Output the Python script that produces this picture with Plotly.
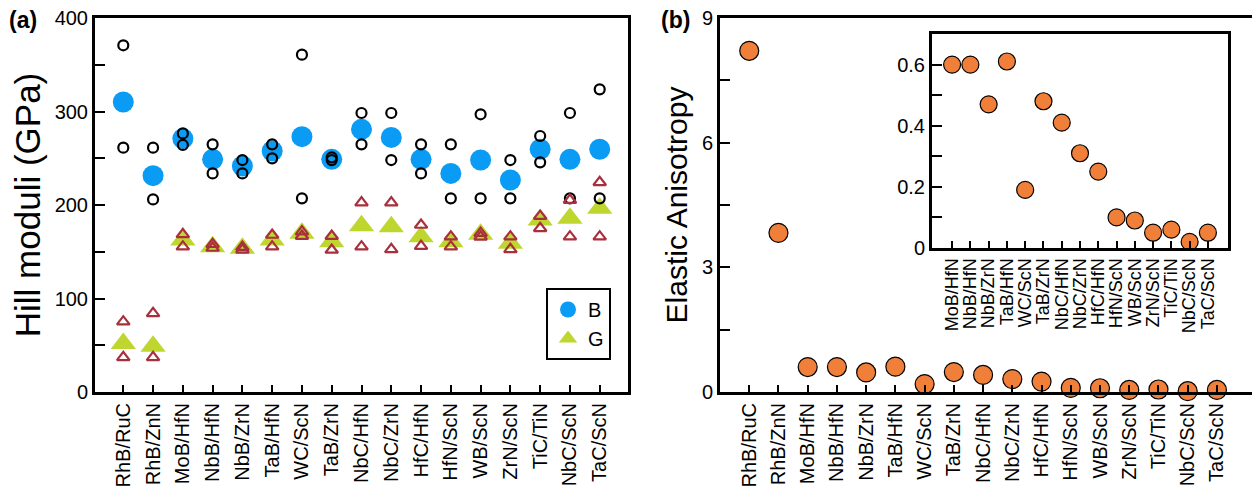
import plotly.graph_objects as go

categories = ["RhB/RuC", "RhB/ZnN", "MoB/HfN", "NbB/HfN", "NbB/ZrN", "TaB/HfN", "WC/ScN",
              "TaB/ZrN", "NbC/HfN", "NbC/ZrN", "HfC/HfN", "HfN/ScN", "WB/ScN", "ZrN/ScN",
              "TiC/TiN", "NbC/ScN", "TaC/ScN"]
B_hill = [310.2, 231.4, 271, 248.8, 241.7, 257.8, 273.1, 248.8, 280.9, 272.3, 248.8, 233.8,
          248.1, 226.7, 259.6, 248.8, 259.6]
B_upper = [370.8, 261.3, 276.6, 264.9, 248.1, 264.9, 360.8, 251, 298.4, 298.4, 264.9, 264.9,
           297, 248.1, 273.8, 298.4, 323.7]
B_lower = [261.3, 206, 264.2, 233.8, 233.8, 249.9, 207.1, 248, 264.9, 248.1, 233.8, 207.1,
           207.1, 207.1, 245.6, 207.1, 207.1]
G_hill = [52, 49, 162.6, 155.4, 153.7, 162.6, 169.7, 160.8, 177.9, 176.8, 166.1, 160.8,
          168.6, 159, 184, 185.8, 196.5]
G_upper = [75.2, 84.1, 168.6, 158, 155, 167.9, 171.5, 166.8, 202.5, 202.5, 178.6, 166.1,
           170, 166.1, 188.2, 205.3, 224.3]
G_lower = [37.1, 37.1, 155.4, 154, 152, 155.4, 166.8, 151.9, 155.4, 152.6, 156, 155.4,
           166, 152.6, 175.1, 166.1, 166.1]
anisotropy = [8.21, 3.83, 0.60, 0.60, 0.47, 0.61, 0.19, 0.48, 0.41, 0.31, 0.25, 0.10,
              0.09, 0.05, 0.06, 0.02, 0.05]
inset_categories = categories[2:]
inset_anisotropy = anisotropy[2:]

FONT = "Liberation Sans, Arial, Helvetica, sans-serif"
BLUE = "#0a9bf5"
GREEN = "#bfd62f"
RED = "#a8303c"
ORANGE = "#f07f3a"

fig = go.Figure()

# Panel (a)
fig.add_trace(go.Scatter(x=categories, y=B_hill, mode="markers", name="B",
                         marker=dict(symbol="circle", size=21, color=BLUE),
                         xaxis="x", yaxis="y"))
fig.add_trace(go.Scatter(x=categories, y=G_hill, mode="markers", name="G",
                         marker=dict(symbol="triangle-up", size=22, color=GREEN),
                         xaxis="x", yaxis="y"))
for arr in (B_upper, B_lower):
    fig.add_trace(go.Scatter(x=categories, y=arr, mode="markers", showlegend=False,
                             marker=dict(symbol="circle-open", size=10, color="black",
                                         line=dict(width=2.2, color="black")),
                             xaxis="x", yaxis="y"))
for arr in (G_upper, G_lower):
    fig.add_trace(go.Scatter(x=categories, y=arr, mode="markers", showlegend=False,
                             marker=dict(symbol="triangle-up-open", size=11, color=RED,
                                         line=dict(width=2.2, color=RED)),
                             xaxis="x", yaxis="y"))

# Panel (b)
fig.add_trace(go.Scatter(x=categories, y=anisotropy, mode="markers", showlegend=False,
                         cliponaxis=False,
                         marker=dict(symbol="circle", size=19, color=ORANGE,
                                     line=dict(width=1.2, color="black")),
                         xaxis="x2", yaxis="y2"))
# Inset
fig.add_trace(go.Scatter(x=inset_categories, y=inset_anisotropy, mode="markers",
                         showlegend=False, cliponaxis=False,
                         marker=dict(symbol="circle", size=17, color=ORANGE,
                                     line=dict(width=1.2, color="black")),
                         xaxis="x3", yaxis="y3"))

# The page body adds an 8px margin; figure coordinates = page coordinates - 8.
OFF = 8
W, H = 1260 - OFF, 494 - OFF
ML, MR, MT = 95 - OFF, 8, 18 - OFF
MB = H - (392 - OFF)
PW, PH = W - ML - MR, H - MT - MB


def dx(p):
    return (p - OFF - ML) / PW


def dy(p):
    return (MT + PH - (p - OFF)) / PH


axis_common = dict(showline=True, linewidth=3, linecolor="black", mirror=True,
                   showgrid=False, zeroline=False, ticks="inside", tickwidth=2,
                   tickcolor="black", automargin=False, ticklabeloverflow="allow",
                   tickfont=dict(family=FONT, size=20, color="black"))

fig.update_layout(
    width=W, height=H,
    margin=dict(l=ML, r=MR, t=MT, b=MB, autoexpand=False),
    paper_bgcolor="white", plot_bgcolor="white",
    font=dict(family=FONT, color="black"),
    xaxis=dict(domain=[dx(95), dx(628)], type="category", range=[-0.95, 16.95],
               tickangle=-90, ticklen=7, anchor="y", **axis_common),
    yaxis=dict(domain=[dy(392), dy(18)], range=[0, 400], tickvals=[0, 100, 200, 300, 400],
               ticklen=10, minor=dict(dtick=50, ticks="inside", ticklen=10, tickwidth=2,
                                      tickcolor="black"),
               anchor="x",
               title=dict(text="Hill moduli (GPa)", font=dict(family=FONT, size=35),
                          standoff=4),
               **axis_common),
    xaxis2=dict(domain=[dx(720), dx(1252)], type="category", range=[-1, 17.2],
                tickangle=-90, ticklen=7, anchor="y2", **axis_common),
    yaxis2=dict(domain=[dy(392), dy(18)], range=[0, 9], tickvals=[0, 3, 6, 9],
                ticklen=10, minor=dict(dtick=1.5, ticks="inside", ticklen=10, tickwidth=2,
                                       tickcolor="black"),
                anchor="x2",
                title=dict(text="Elastic Anisotropy", font=dict(family=FONT, size=30),
                           standoff=6),
                **axis_common),
    xaxis3=dict(domain=[dx(932), dx(1228)], type="category", range=[-1.1, 15.1],
                tickmode="array", tickvals=inset_categories, ticktext=inset_categories,
                tickangle=-90, ticklen=7, anchor="y3",
                **{**axis_common, "tickfont": dict(family=FONT, size=18, color="black")}),
    yaxis3=dict(domain=[dy(248), dy(34)], range=[0, 0.7],
                tickvals=[0, 0.2, 0.4, 0.6], ticktext=["0", "0.2", "0.4", "0.6"],
                ticklen=10, minor=dict(dtick=0.1, ticks="inside", ticklen=10, tickwidth=2,
                                       tickcolor="black"),
                anchor="x3",
                **{**axis_common, "tickfont": dict(family=FONT, size=20, color="black")}),
    legend=dict(x=dx(546), y=dy(288), xanchor="left", yanchor="top",
                bordercolor="black", borderwidth=2, bgcolor="white",
                font=dict(family=FONT, size=20, color="black"),
                itemwidth=30, tracegroupgap=0),
    annotations=[
        dict(text="<b>(a)</b>", x=dx(7), y=dy(5), xref="paper", yref="paper",
             xanchor="left", yanchor="top", showarrow=False,
             font=dict(family=FONT, size=23, color="black")),
        dict(text="<b>(b)</b>", x=dx(659), y=dy(5), xref="paper", yref="paper",
             xanchor="left", yanchor="top", showarrow=False,
             font=dict(family=FONT, size=23, color="black")),
    ],
)

fig.write_html("out.html")
